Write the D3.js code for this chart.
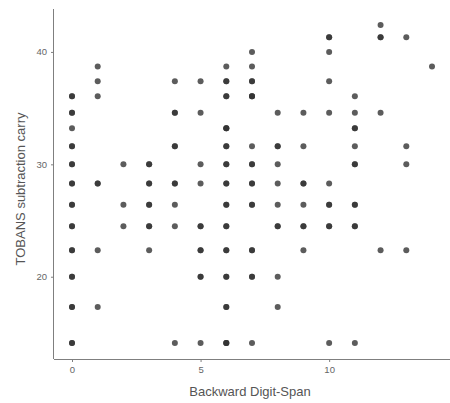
<!DOCTYPE html>
<meta charset="utf-8">
<style>
body { margin: 0; background: #fff; }
svg { display: block; font-family: "Liberation Sans", Arial, sans-serif; }
.axis path, .axis line { stroke: #7f7f7f; }
.axis text { fill: #666; font-size: 9.5px; }
.title { fill: #555; font-size: 13px; }
</style>
<svg width="450" height="403"></svg>
<script src="https://cdn.jsdelivr.net/npm/d3@7"></script>
<script>
// observations listed column by column: digit span, tobans scores seen at it, and how many sit on each spot
var cols = [0,1,2,3,4,5,6,7,8,9,10,11,12,13,14]
var colScores = [
  [36.05,34.6,33.2,31.6,30,28.3,26.4,24.5,22.35,20,17.3,14.1],
  [38.7,37.4,36.05,28.3,22.35,17.3],
  [30,26.4,24.5],
  [30,28.3,26.4,24.5,22.35],
  [37.4,34.6,31.6,28.3,26.4,24.5,14.1],
  [37.4,34.6,30,28.3,24.5,22.35,20,14.1],
  [38.7,37.4,36.05,33.2,31.6,30,28.3,26.4,24.5,22.35,20,17.3,14.1],
  [40,38.7,37.4,36.05,31.6,30,28.3,26.4,22.35,20,14.1],
  [34.6,31.6,30,28.3,26.4,24.5,20,17.3],
  [34.6,31.6,28.3,26.4,24.5,22.35],
  [41.3,40,37.4,34.6,28.3,26.4,24.5,14.1],
  [36.05,34.6,33.2,31.6,30,26.4,24.5,14.1],
  [42.4,41.3,34.6,22.35],
  [41.3,31.6,30,22.35],
  [38.7]
]
var colCounts = [
  [2,2,1,2,2,2,2,2,2,2,2,2],
  [1,1,1,2,1,1],
  [1,1,1],
  [2,2,2,2,1],
  [1,2,2,2,1,1,1],
  [1,1,1,1,2,2,2,1],
  [1,2,2,3,2,2,2,2,2,2,2,2,3],
  [1,1,2,3,1,2,2,2,2,2,1],
  [1,2,1,1,1,2,1,1],
  [1,1,2,1,2,1],
  [2,1,1,1,1,2,2,1],
  [1,1,2,1,2,2,2,1],
  [1,2,1,1],
  [1,1,1,1],
  [1]
]

var points = []
cols.forEach(function(c, i){
  colScores[i].forEach(function(s, j){
    for(var k = 0; k < colCounts[i][j]; k++) points.push({x: c, y: s})
  })
})

var margin = {left: 54, right: 0, top: 9, bottom: 44},
    width = 450 - margin.left - margin.right,
    height = 403 - margin.top - margin.bottom

var svg = d3.select("svg")
var g = svg.append("g").attr("transform", "translate(" + margin.left + "," + margin.top + ")")

var x = d3.scaleLinear().domain([-0.7, 14.7]).range([0, width])
var y = d3.scaleLinear().domain([12.68, 43.82]).range([height, 0])

g.selectAll("circle")
  .data(points)
  .enter().append("circle")
    .attr("cx", function(d){ return x(d.x) })
    .attr("cy", function(d){ return y(d.y) })
    .attr("r", 3)
    .attr("fill", "#333")
    .attr("fill-opacity", 0.8)

g.append("g").attr("class", "axis")
  .attr("transform", "translate(0," + height + ")")
  .call(d3.axisBottom(x).tickValues([0, 5, 10]).tickSize(3).tickPadding(4))
  .call(function(a){ a.select(".domain").attr("d", "M0,0.5H" + width) })

g.append("g").attr("class", "axis")
  .call(d3.axisLeft(y).tickValues([20, 30, 40]).tickSize(3).tickPadding(4))
  .call(function(a){ a.select(".domain").attr("d", "M-0.5,0V" + height) })

svg.append("text").attr("class", "title")
  .attr("x", 250).attr("y", 396)
  .attr("text-anchor", "middle")
  .text("Backward Digit-Span")

svg.append("text").attr("class", "title")
  .attr("transform", "translate(25,189) rotate(-90)")
  .attr("text-anchor", "middle")
  .text("TOBANS subtraction carry")
</script>
